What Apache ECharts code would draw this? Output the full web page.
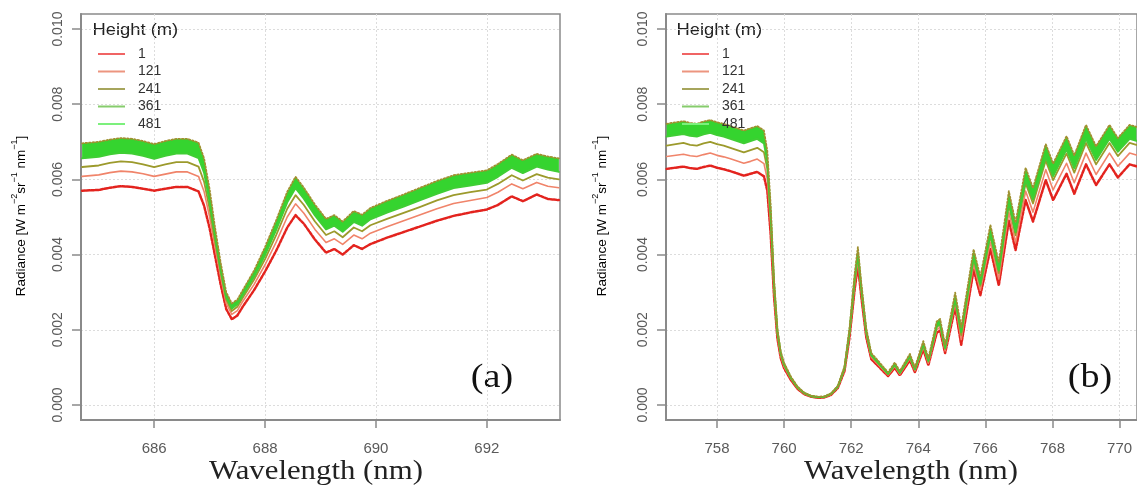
<!DOCTYPE html>
<html><head><meta charset="utf-8">
<script src="https://cdn.jsdelivr.net/npm/echarts@6/dist/echarts.min.js"></script>
<style>html,body{margin:0;padding:0;background:#fff}#c{width:1137px;height:493px}</style>
</head><body><div id="c"></div>
<script>
const HEIGHTS = ['1', '121', '241', '361', '481'];
const X_TICKS_A = [686, 688, 690, 692];
const X_TICKS_B = [758, 760, 762, 764, 766, 768, 770];
const Y_TICKS = [0, 0.002, 0.004, 0.006, 0.008, 0.010];

// Panel (a): wavelengths (nm)
const WL_A = [684.7, 685.0, 685.2, 685.4, 685.6, 685.8, 686.0, 686.2, 686.4, 686.6, 686.8, 686.9, 687.0, 687.1, 687.2, 687.3, 687.4, 687.5, 687.6, 687.8, 688.0, 688.2, 688.4, 688.55, 688.7, 688.9, 689.1, 689.25, 689.4, 689.6, 689.75, 689.9, 690.2, 690.5, 690.8, 691.1, 691.4, 691.7, 692.0, 692.2, 692.45, 692.65, 692.9, 693.1, 693.3];
const A_H1   = [0.00570, 0.00572, 0.00578, 0.00582, 0.00580, 0.00575, 0.00570, 0.00575, 0.00580, 0.00580, 0.00568, 0.00530, 0.00470, 0.00395, 0.00320, 0.00255, 0.00228, 0.00238, 0.00262, 0.00305, 0.00355, 0.00410, 0.00472, 0.00505, 0.00482, 0.00440, 0.00405, 0.00415, 0.00400, 0.00425, 0.00415, 0.00428, 0.00445, 0.00460, 0.00475, 0.00490, 0.00503, 0.00512, 0.00520, 0.00532, 0.00555, 0.00542, 0.00560, 0.00548, 0.00545];
const A_H121 = [0.00608, 0.00612, 0.00618, 0.00622, 0.00620, 0.00615, 0.00608, 0.00614, 0.00620, 0.00620, 0.00608, 0.00568, 0.00500, 0.00418, 0.00340, 0.00270, 0.00241, 0.00251, 0.00276, 0.00320, 0.00373, 0.00433, 0.00500, 0.00535, 0.00510, 0.00467, 0.00432, 0.00442, 0.00427, 0.00452, 0.00442, 0.00457, 0.00474, 0.00490, 0.00506, 0.00522, 0.00536, 0.00544, 0.00552, 0.00566, 0.00588, 0.00575, 0.00592, 0.00582, 0.00578];
const A_H241 = [0.00633, 0.00637, 0.00644, 0.00648, 0.00646, 0.00640, 0.00633, 0.00640, 0.00646, 0.00646, 0.00634, 0.00594, 0.00522, 0.00434, 0.00352, 0.00280, 0.00250, 0.00261, 0.00286, 0.00333, 0.00388, 0.00452, 0.00522, 0.00558, 0.00532, 0.00488, 0.00452, 0.00462, 0.00446, 0.00472, 0.00462, 0.00478, 0.00495, 0.00511, 0.00527, 0.00544, 0.00558, 0.00566, 0.00573, 0.00588, 0.00611, 0.00597, 0.00614, 0.00605, 0.00600];
const A_H361 = [0.00656, 0.00660, 0.00667, 0.00671, 0.00669, 0.00663, 0.00655, 0.00663, 0.00669, 0.00669, 0.00657, 0.00618, 0.00541, 0.00448, 0.00360, 0.00287, 0.00257, 0.00268, 0.00293, 0.00341, 0.00399, 0.00466, 0.00539, 0.00577, 0.00549, 0.00504, 0.00467, 0.00477, 0.00461, 0.00487, 0.00477, 0.00494, 0.00512, 0.00528, 0.00545, 0.00562, 0.00577, 0.00584, 0.00591, 0.00607, 0.00631, 0.00617, 0.00634, 0.00626, 0.00620];
const A_H481 = [0.00696, 0.00700, 0.00706, 0.00710, 0.00708, 0.00702, 0.00694, 0.00702, 0.00708, 0.00708, 0.00698, 0.00656, 0.00574, 0.00470, 0.00378, 0.00300, 0.00270, 0.00280, 0.00306, 0.00357, 0.00420, 0.00491, 0.00567, 0.00607, 0.00578, 0.00533, 0.00495, 0.00505, 0.00488, 0.00516, 0.00506, 0.00524, 0.00543, 0.00560, 0.00578, 0.00596, 0.00611, 0.00618, 0.00624, 0.00641, 0.00666, 0.00651, 0.00668, 0.00661, 0.00656];

// Panel (b): wavelengths (nm)
const WL_B = [756.5, 757.0, 757.2, 757.4, 757.6, 757.8, 758.0, 758.2, 758.4, 758.6, 758.8, 759.0, 759.2, 759.4, 759.5, 759.6, 759.7, 759.8, 759.9, 760.0, 760.2, 760.4, 760.6, 760.8, 761.0, 761.2, 761.4, 761.6, 761.8, 761.95, 762.1, 762.2, 762.3, 762.45, 762.6, 762.8, 762.95, 763.1, 763.3, 763.45, 763.75, 763.9, 764.15, 764.3, 764.55, 764.65, 764.8, 765.1, 765.28, 765.65, 765.85, 766.15, 766.4, 766.7, 766.9, 767.2, 767.42, 767.8, 768.02, 768.42, 768.65, 769.0, 769.3, 769.7, 769.95, 770.3, 770.5];
const B_H1   = [0.00628, 0.00634, 0.00630, 0.00628, 0.00633, 0.00637, 0.00631, 0.00627, 0.00622, 0.00616, 0.00610, 0.00615, 0.00620, 0.00608, 0.00570, 0.00455, 0.00290, 0.00178, 0.00125, 0.00098, 0.00067, 0.00043, 0.00029, 0.00022, 0.00019, 0.00020, 0.00027, 0.00045, 0.00090, 0.00180, 0.00305, 0.00372, 0.00290, 0.00180, 0.00122, 0.00104, 0.00090, 0.00077, 0.00099, 0.00079, 0.00119, 0.00087, 0.00148, 0.00106, 0.00192, 0.00198, 0.00138, 0.00260, 0.00160, 0.00360, 0.00292, 0.00415, 0.00318, 0.00490, 0.00412, 0.00545, 0.00488, 0.00598, 0.00545, 0.00615, 0.00562, 0.00640, 0.00585, 0.00640, 0.00605, 0.00640, 0.00635];
const B_H121 = [0.00661, 0.00667, 0.00663, 0.00661, 0.00666, 0.00670, 0.00664, 0.00660, 0.00655, 0.00649, 0.00643, 0.00648, 0.00654, 0.00642, 0.00601, 0.00478, 0.00304, 0.00186, 0.00130, 0.00102, 0.00070, 0.00045, 0.00030, 0.00023, 0.00020, 0.00021, 0.00028, 0.00047, 0.00094, 0.00187, 0.00317, 0.00386, 0.00301, 0.00187, 0.00127, 0.00108, 0.00094, 0.00080, 0.00103, 0.00082, 0.00124, 0.00091, 0.00154, 0.00111, 0.00200, 0.00207, 0.00144, 0.00271, 0.00174, 0.00375, 0.00305, 0.00433, 0.00335, 0.00512, 0.00432, 0.00569, 0.00513, 0.00626, 0.00572, 0.00643, 0.00591, 0.00670, 0.00613, 0.00670, 0.00635, 0.00670, 0.00665];
const B_H241 = [0.00690, 0.00697, 0.00692, 0.00690, 0.00696, 0.00700, 0.00694, 0.00690, 0.00684, 0.00678, 0.00672, 0.00678, 0.00684, 0.00672, 0.00628, 0.00497, 0.00316, 0.00192, 0.00135, 0.00106, 0.00072, 0.00046, 0.00031, 0.00023, 0.00020, 0.00021, 0.00029, 0.00048, 0.00097, 0.00193, 0.00327, 0.00398, 0.00310, 0.00193, 0.00131, 0.00111, 0.00097, 0.00082, 0.00106, 0.00085, 0.00127, 0.00094, 0.00159, 0.00115, 0.00207, 0.00214, 0.00149, 0.00280, 0.00186, 0.00388, 0.00317, 0.00449, 0.00351, 0.00532, 0.00451, 0.00590, 0.00536, 0.00650, 0.00598, 0.00669, 0.00618, 0.00697, 0.00640, 0.00697, 0.00662, 0.00697, 0.00692];
const B_H361 = [0.00714, 0.00721, 0.00716, 0.00714, 0.00720, 0.00724, 0.00718, 0.00714, 0.00708, 0.00702, 0.00696, 0.00702, 0.00708, 0.00696, 0.00648, 0.00511, 0.00324, 0.00197, 0.00138, 0.00108, 0.00073, 0.00047, 0.00032, 0.00024, 0.00021, 0.00022, 0.00030, 0.00049, 0.00098, 0.00196, 0.00333, 0.00404, 0.00314, 0.00196, 0.00133, 0.00113, 0.00098, 0.00083, 0.00108, 0.00086, 0.00129, 0.00095, 0.00161, 0.00118, 0.00210, 0.00217, 0.00152, 0.00284, 0.00194, 0.00394, 0.00322, 0.00455, 0.00358, 0.00541, 0.00460, 0.00599, 0.00547, 0.00660, 0.00609, 0.00680, 0.00630, 0.00708, 0.00652, 0.00708, 0.00674, 0.00708, 0.00703];
const B_H481 = [0.00748, 0.00755, 0.00750, 0.00748, 0.00754, 0.00758, 0.00752, 0.00748, 0.00742, 0.00736, 0.00730, 0.00736, 0.00742, 0.00730, 0.00676, 0.00532, 0.00336, 0.00204, 0.00142, 0.00112, 0.00076, 0.00049, 0.00033, 0.00025, 0.00022, 0.00023, 0.00031, 0.00051, 0.00102, 0.00204, 0.00346, 0.00420, 0.00326, 0.00204, 0.00138, 0.00118, 0.00102, 0.00087, 0.00113, 0.00090, 0.00136, 0.00100, 0.00170, 0.00124, 0.00222, 0.00229, 0.00160, 0.00299, 0.00207, 0.00414, 0.00341, 0.00479, 0.00379, 0.00569, 0.00485, 0.00631, 0.00577, 0.00694, 0.00642, 0.00715, 0.00664, 0.00745, 0.00688, 0.00745, 0.00710, 0.00745, 0.00740];

const SERIES_A = [A_H1, A_H121, A_H241, A_H361, A_H481];
const SERIES_B = [B_H1, B_H121, B_H241, B_H361, B_H481];

const CURVE_COLORS = ['#e3231e', '#f0846a', '#9c9a2c', '#3fce34', '#a09030'];
const CURVE_WIDTHS = [2.5, 1.6, 1.8, 2, 1.8];
const CURVE_TYPES = [[3, 1.5], 'solid', 'solid', 'solid', [1.5, 2]];
const BAND_COLOR = '#35d42f';
const LEGEND_COLORS = ['#f06464', '#ec957f', '#a6a55c', '#86cc6c', '#7cf07c'];

const chart = echarts.init(document.getElementById('c'), null, {renderer: 'canvas'});

function xAxis(gridIndex, min, max, ticks) {
  return {
    type: 'value', gridIndex, min, max,
    axisLine: {show: true, onZero: false, lineStyle: {color: '#8a8a8a', width: 2}},
    axisTick: {show: true, customValues: ticks, length: 8, lineStyle: {color: '#8a8a8a', width: 1.5}},
    axisLabel: {customValues: ticks, margin: 21, color: '#5a5a5a', fontSize: 15, fontFamily: 'Liberation Sans', formatter: v => String(v)},
    splitLine: {show: true, lineStyle: {color: '#dcdcdc', type: [2, 2], width: 1}}
  };
}
function yAxis(gridIndex) {
  return {
    type: 'value', gridIndex, min: -0.0004, max: 0.0104,
    axisLine: {show: true, onZero: false, lineStyle: {color: '#8a8a8a', width: 2}},
    axisTick: {show: true, customValues: Y_TICKS, length: 9, lineStyle: {color: '#8a8a8a', width: 1.5}},
    axisLabel: {customValues: Y_TICKS, rotate: 90, margin: 16, color: '#5a5a5a', fontSize: 14, fontFamily: 'Liberation Sans', formatter: v => v.toFixed(3)},
    splitLine: {show: true, lineStyle: {color: '#dcdcdc', type: [2, 2], width: 1}}
  };
}

const series = [];
[SERIES_A, SERIES_B].forEach((panel, p) => {
  const wl = p === 0 ? WL_A : WL_B;
  const lower = panel[3], upper = panel[4];
  // filled band between the 361 m and 481 m spectra, drawn through the axes' own scales
  series.push({
    name: 'band-' + p, type: 'custom', xAxisIndex: p, yAxisIndex: p, silent: true, z: 2, clip: true,
    data: [[wl[0], lower[0]]],
    renderItem: (params, api) => {
      const pts = [];
      for (let k = 0; k < wl.length; k++) pts.push(api.coord([wl[k], upper[k]]));
      for (let k = wl.length - 1; k >= 0; k--) pts.push(api.coord([wl[k], lower[k]]));
      return {type: 'polygon', shape: {points: pts}, style: {fill: BAND_COLOR, stroke: null}};
    }
  });
  panel.forEach((vals, i) => {
    series.push({
      name: HEIGHTS[i], type: 'line', xAxisIndex: p, yAxisIndex: p,
      symbol: 'none', smooth: false, silent: true, z: 3,
      lineStyle: {color: CURVE_COLORS[i], width: CURVE_WIDTHS[i], type: CURVE_TYPES[i], join: 'round', cap: 'round'},
      itemStyle: {color: CURVE_COLORS[i]},
      data: wl.map((x, k) => [x, vals[k]])
    });
  });
});

function legend(left) {
  return {
    orient: 'vertical', left, top: 42, itemWidth: 27, itemHeight: 14, itemGap: 3.5,
    selectedMode: false,
    textStyle: {color: '#333', fontSize: 14, fontFamily: 'Liberation Sans', padding: [0, 0, 0, 8]},
    data: HEIGHTS.map((h, i) => ({name: h, icon: 'path://M0,6.5L27,6.5L27,8.5L0,8.5Z', itemStyle: {color: LEGEND_COLORS[i]}}))
  };
}

const SUP = {fontSize: 9, fontFamily: 'Liberation Sans', color: '#444', verticalAlign: 'top', lineHeight: 18};
const NORM = {fontSize: 13.5, fontFamily: 'Liberation Sans', color: '#444', verticalAlign: 'bottom', lineHeight: 18};
const yTitle = '{n|Radiance [W m}{s|−2}{n|sr}{s|−1}{n| nm}{s|−1}{n|]}';

function textEl(x, y, text, style, extra) {
  return Object.assign({type: 'text', x, y, silent: true, style: Object.assign({text}, style)}, extra || {});
}

const graphics = [
  textEl(92.5, 30, 'Height (m)', {font: '17px "Liberation Sans"', fill: '#222', align: 'left', verticalAlign: 'middle'}, {scaleX: 1.08}),
  textEl(676.5, 30, 'Height (m)', {font: '17px "Liberation Sans"', fill: '#222', align: 'left', verticalAlign: 'middle'}, {scaleX: 1.08}),
  textEl(492, 378, '(a)', {font: '34px "Liberation Serif"', fill: '#111', align: 'center', verticalAlign: 'middle'}, {scaleX: 1.12}),
  textEl(1090, 378, '(b)', {font: '34px "Liberation Serif"', fill: '#111', align: 'center', verticalAlign: 'middle'}, {scaleX: 1.12}),
  textEl(316, 472, 'Wavelength (nm)', {font: '28px "Liberation Serif"', fill: '#222', align: 'center', verticalAlign: 'middle'}, {scaleX: 1.1}),
  textEl(911, 472, 'Wavelength (nm)', {font: '28px "Liberation Serif"', fill: '#222', align: 'center', verticalAlign: 'middle'}, {scaleX: 1.1}),
  textEl(19, 216, yTitle, {align: 'center', verticalAlign: 'middle', rich: {n: NORM, s: SUP}}, {rotation: Math.PI / 2}),
  textEl(600, 216, yTitle, {align: 'center', verticalAlign: 'middle', rich: {n: NORM, s: SUP}}, {rotation: Math.PI / 2})
];

chart.setOption({
  backgroundColor: '#ffffff',
  animation: false,
  grid: [
    {left: 81, top: 14, width: 479, height: 406, show: true, borderColor: '#8a8a8a', borderWidth: 1.5, backgroundColor: 'transparent'},
    {left: 666, top: 14, width: 479, height: 406, show: true, borderColor: '#8a8a8a', borderWidth: 1.5, backgroundColor: 'transparent'}
  ],
  xAxis: [xAxis(0, 684.68, 693.32, X_TICKS_A), xAxis(1, 756.48, 770.52, X_TICKS_B)],
  yAxis: [yAxis(0), yAxis(1)],
  legend: [legend(93), legend(677)],
  series,
  graphic: graphics
});
</script></body></html>
